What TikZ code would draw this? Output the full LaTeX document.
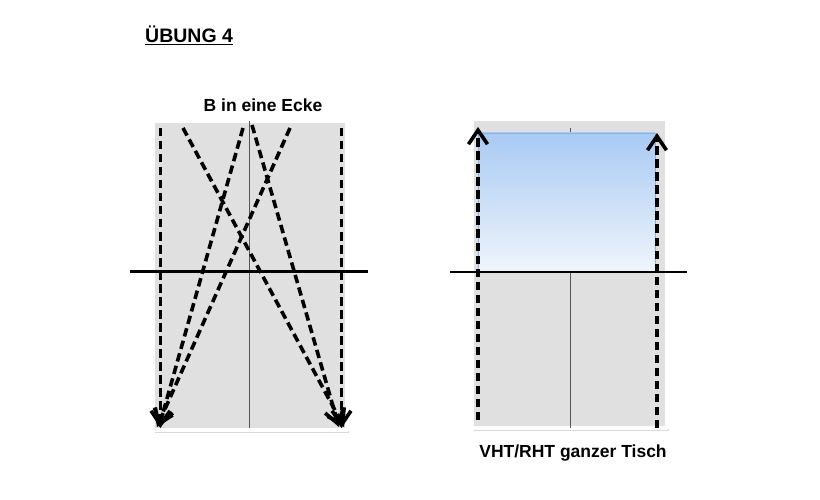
\documentclass[tikz,border=0pt]{standalone}
\usepackage{fontspec}
\setmainfont{Liberation Sans}
\usepackage{tikz}
\usetikzlibrary{arrows.meta,positioning,shadows}
\definecolor{tischgrau}{HTML}{E0E0E0}
\definecolor{mittelgrau}{HTML}{555555}
\definecolor{blauoben}{HTML}{A9CAF3}
\definecolor{blauunten}{HTML}{EFF5FC}
\definecolor{blaurand}{HTML}{8DB2E0}
\tikzset{
    every picture/.style={line join=round},
    tischbox/.style={fill=tischgrau,draw=white,line width=4pt,inner sep=0pt,
      minimum width=194pt,minimum height=309pt,
      drop shadow={shadow xshift=2pt,shadow yshift=-2.5pt,opacity=0.3}},
    zone/.style={draw=blaurand,line width=0.5pt,top color=blauoben,bottom color=blauunten,
      inner sep=0pt,minimum width=177pt,minimum height=139pt},
    mittellinie/.style={draw=mittelgrau,line width=0.6pt},
    netz/.style={draw=black,line width=2.4pt},
    laufweg/.style={draw=black,line width=3.6pt,line cap=butt,dash pattern=on 8.5pt off 4.5pt,
      -{Straight Barb[length=14pt,width=19pt,line width=3.6pt]}},
    titel/.style={inner sep=0pt,font=\bfseries\fontsize{19.5}{22}\selectfont},
    beschriftung/.style={inner sep=0pt,font=\bfseries\fontsize{17.5}{20}\selectfont}
}
\begin{document}
\begin{tikzpicture}[x=1pt,y=-1pt]
    \useasboundingbox (0,0) rectangle (820,500);
    % Ueberschriften
    \node[titel,anchor=base west] (titel) at (145,42.5) {\underline{ÜBUNG 4}};
    \node[beschriftung,anchor=base] (textL) at (263,112) {B in eine Ecke};
    \node[beschriftung,anchor=base] (textR) at (573,457) {VHT/RHT ganzer Tisch};
    % linker Tisch
    \node[tischbox] (tischL) at (250,275.5) {};
    \coordinate (mitteLo) at (249,121);
    \coordinate (mitteLu) at (249,428);
    \draw[mittellinie] (mitteLo) -- (mitteLu);
    \coordinate (netzLa) at (130,271.5);
    \coordinate (netzLb) at (368,271.5);
    \draw[netz] (netzLa) -- (netzLb);
    \coordinate (startL1) at (160.5,128);
    \coordinate (startL2) at (183,128);
    \coordinate (startL3) at (243,128);
    \coordinate (startL4) at (252,125);
    \coordinate (startL5) at (290,128);
    \coordinate (startL6) at (341.5,128);
    \coordinate (eckeLu1) at (160.5,428);
    \coordinate (eckeLu2) at (159,427);
    \coordinate (eckeLu3) at (157,427);
    \coordinate (eckeRu1) at (341.5,428);
    \coordinate (eckeRu2) at (344,427);
    \coordinate (eckeRu3) at (339,427);
    \draw[laufweg] (startL1) -- (eckeLu1);
    \draw[laufweg] (startL3) -- (eckeLu2);
    \draw[laufweg] (startL5) -- (eckeLu3);
    \draw[laufweg] (startL6) -- (eckeRu1);
    \draw[laufweg] (startL2) -- (eckeRu2);
    \draw[laufweg] (startL4) -- (eckeRu3);
    % rechter Tisch
    \node[tischbox,minimum width=195pt] (tischR) at (569.5,273.5) {};
    \coordinate (mitteRo) at (570,128);
    \coordinate (mitteRu) at (570,428);
    \draw[mittellinie] (mitteRo) -- (mitteRu);
    \node[zone] (zone) at (566.5,202.5) {};
    \coordinate (netzRa) at (450,272);
    \coordinate (netzRb) at (687,272);
    \draw[netz] (netzRa) -- (netzRb);
    \coordinate (startR1) at (478,420);
    \coordinate (zielR1) at (478,127);
    \coordinate (startR2) at (657,428);
    \coordinate (zielR2) at (657,133);
    \draw[laufweg] (startR1) -- (zielR1);
    \draw[laufweg] (startR2) -- (zielR2);
\end{tikzpicture}
\end{document}
